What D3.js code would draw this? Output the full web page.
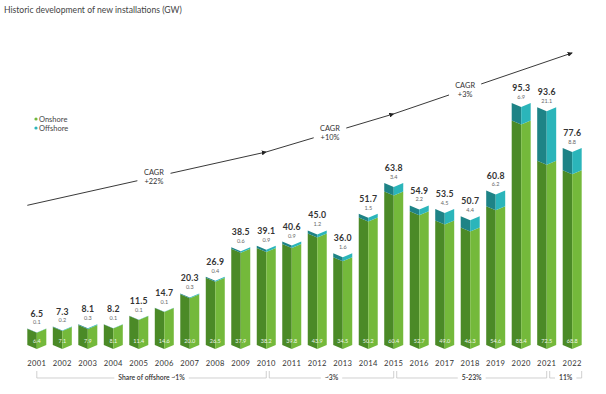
<!DOCTYPE html>
<html>
<head>
<meta charset="utf-8">
<script src="https://cdn.jsdelivr.net/npm/d3@7"></script>
<style>
  body { margin: 0; background: #fff; }
  svg { font-family: "Lato", "Noto Sans", sans-serif; display: block; }
</style>
</head>
<body>
<div id="chart"></div>
<script>
// Installations per year (GW)
const years    = [2001, 2002, 2003, 2004, 2005, 2006, 2007, 2008, 2009, 2010, 2011,
                  2012, 2013, 2014, 2015, 2016, 2017, 2018, 2019, 2020, 2021, 2022];
const totals   = [6.5, 7.3, 8.1, 8.2, 11.5, 14.7, 20.3, 26.9, 38.5, 39.1, 40.6,
                  45.0, 36.0, 51.7, 63.8, 54.9, 53.5, 50.7, 60.8, 95.3, 93.6, 77.6];
const onshore  = [6.4, 7.1, 7.9, 8.1, 11.4, 14.6, 20.0, 26.5, 37.9, 38.2, 39.8,
                  43.9, 34.5, 50.2, 60.4, 52.7, 49.0, 46.3, 54.6, 88.4, 72.5, 68.8];
const offshore = [0.1, 0.2, 0.3, 0.1, 0.1, 0.1, 0.3, 0.4, 0.6, 0.9, 0.9,
                  1.2, 1.6, 1.5, 3.4, 2.2, 4.5, 4.4, 6.2, 6.9, 21.1, 8.8];

// CAGR trend arrow (anchor years + trend level in GW)
const cagrYears  = [2001, 2010, 2015, 2022];
const cagrLevels = [55, 76, 91, 115];
const cagrLabels = ["+22%", "+10%", "+3%"];
const cagrLabelPos = [0.53, 0.5, 0.4];   // where the label sits along each leg

// offshore share brackets
const shareSpans  = [[2001, 2010], [2010, 2015], [2015, 2021], [2021, 2022]];
const shareLabels = ["Share of offshore ~1%", "~3%", "5-23%", "11%"];

const width = 606, height = 394;
const notch = 4;

const colors = {
  onL: "#4b8a27", onR: "#74b93b",
  offL: "#1e8386", offR: "#2bb5ba"
};

const svg = d3.select("#chart").append("svg")
  .attr("width", width).attr("height", height);

const x = d3.scaleBand().domain(years).range([24, 585])
  .paddingInner(0.255).paddingOuter(0.13);
const y = d3.scaleLinear().domain([0, 100]).range([345, 91]);
const cx = yr => x(yr) + x.bandwidth() / 2;

// title
svg.append("text")
  .attr("x", 4).attr("y", 13)
  .attr("font-size", 8.6).attr("fill", "#444")
  .text("Historic development of new installations (GW)");

// legend
const legend = svg.append("g").attr("transform", "translate(36,119)");
[["Onshore", colors.onR], ["Offshore", colors.offR]].forEach((d, i) => {
  legend.append("circle").attr("cx", 0).attr("cy", i * 9).attr("r", 1.6).attr("fill", d[1]);
  legend.append("text").attr("x", 3).attr("y", i * 9).attr("dy", "0.35em")
    .attr("font-size", 7.5).attr("fill", "#444").text(d[0]);
});

// chevron halves
function halves(yr, v0, v1) {
  const x0 = x(yr), x1 = x(yr) + x.bandwidth(), xm = cx(yr);
  const t = y(v1), b = y(v0);
  return [
    `M${x0},${t}L${xm},${t + notch}L${xm},${b + notch}L${x0},${b}Z`,
    `M${xm},${t + notch}L${x1},${t}L${x1},${b}L${xm},${b + notch}Z`
  ];
}

const bars = svg.append("g");
years.forEach((yr, i) => {
  const on = halves(yr, 0, onshore[i]);
  const off = halves(yr, onshore[i], onshore[i] + offshore[i]);
  bars.append("path").attr("d", on[0]).attr("fill", colors.onL);
  bars.append("path").attr("d", on[1]).attr("fill", colors.onR);
  bars.append("path").attr("d", off[0]).attr("fill", colors.offL);
  bars.append("path").attr("d", off[1]).attr("fill", colors.offR);

  const top = y(onshore[i] + offshore[i]);
  bars.append("text").attr("x", cx(yr)).attr("y", top - 15).attr("dy", "0.35em")
    .attr("text-anchor", "middle").attr("font-size", 8.7).attr("font-weight", "bold")
    .attr("letter-spacing", 0.2)
    .attr("fill", "#333").text(totals[i].toFixed(1));
  bars.append("text").attr("x", cx(yr)).attr("y", top - 6).attr("dy", "0.35em")
    .attr("text-anchor", "middle").attr("font-size", 5.5)
    .attr("fill", "#666").text(offshore[i].toFixed(1));
  bars.append("text").attr("x", cx(yr)).attr("y", y(0) - 4).attr("dy", "0.35em")
    .attr("text-anchor", "middle").attr("font-size", 5.5)
    .attr("fill", "#fff").attr("opacity", 0.9).text(onshore[i].toFixed(1));

  bars.append("text").attr("x", cx(yr)).attr("y", 363).attr("dy", "0.35em")
    .attr("text-anchor", "middle").attr("font-size", 7.6).attr("letter-spacing", 0.4)
    .attr("fill", "#333").text(yr);
});

// CAGR arrow
svg.append("defs").append("marker")
  .attr("id", "arr").attr("viewBox", "0 0 10 10")
  .attr("refX", 9).attr("refY", 5)
  .attr("markerWidth", 5).attr("markerHeight", 5)
  .attr("markerUnits", "userSpaceOnUse")
  .attr("orient", "auto")
  .append("path").attr("d", "M0,0L10,5L0,10Z").attr("fill", "#222");

const pts = cagrYears.map((yr, i) => [i === 0 ? x(yr) : cx(yr), y(cagrLevels[i])]);
const trend = svg.append("g");
const gap = 17;
cagrLabels.forEach((lab, i) => {
  const [ax, ay] = pts[i], [bx, by] = pts[i + 1];
  const len = Math.hypot(bx - ax, by - ay);
  const ux = (bx - ax) / len, uy = (by - ay) / len;
  const lx = ax + (bx - ax) * cagrLabelPos[i], ly = ay + (by - ay) * cagrLabelPos[i];
  trend.append("line")
    .attr("x1", ax).attr("y1", ay)
    .attr("x2", lx - ux * gap).attr("y2", ly - uy * gap)
    .attr("stroke", "#222").attr("stroke-width", 0.9);
  trend.append("line")
    .attr("x1", lx + ux * gap).attr("y1", ly + uy * gap)
    .attr("x2", bx).attr("y2", by)
    .attr("stroke", "#222").attr("stroke-width", 0.9)
    .attr("marker-end", "url(#arr)");
  trend.append("text").attr("x", lx).attr("y", ly - 4.5).attr("dy", "0.35em")
    .attr("text-anchor", "middle").attr("font-size", 7.4).attr("fill", "#333")
    .text("CAGR");
  trend.append("text").attr("x", lx).attr("y", ly + 4.5).attr("dy", "0.35em")
    .attr("text-anchor", "middle").attr("font-size", 7.4).attr("fill", "#333")
    .text(lab);
});

// offshore share brackets
const brk = svg.append("g");
const lineY = 378, tickTop = 371;
shareSpans.forEach((span, i) => {
  const left = i === 0 ? cx(span[0]) : cx(span[0]) + 3;
  const right = i === shareSpans.length - 1 ? x(span[1]) + x.bandwidth() : cx(span[1]);
  const mid = (left + right) / 2;
  const t = brk.append("text").attr("x", mid).attr("y", lineY).attr("dy", "0.35em")
    .attr("text-anchor", "middle").attr("font-size", 6.8).attr("font-weight", "600")
    .attr("fill", "#333").text(shareLabels[i]);
  const tw = t.node().getComputedTextLength() / 2 + 4;
  brk.append("path")
    .attr("d", `M${left},${tickTop}L${left},${lineY}L${mid - tw},${lineY}`)
    .attr("fill", "none").attr("stroke", "#bbb").attr("stroke-width", 0.7);
  brk.append("path")
    .attr("d", `M${mid + tw},${lineY}L${right},${lineY}L${right},${tickTop}`)
    .attr("fill", "none").attr("stroke", "#bbb").attr("stroke-width", 0.7);
});
</script>
</body>
</html>
